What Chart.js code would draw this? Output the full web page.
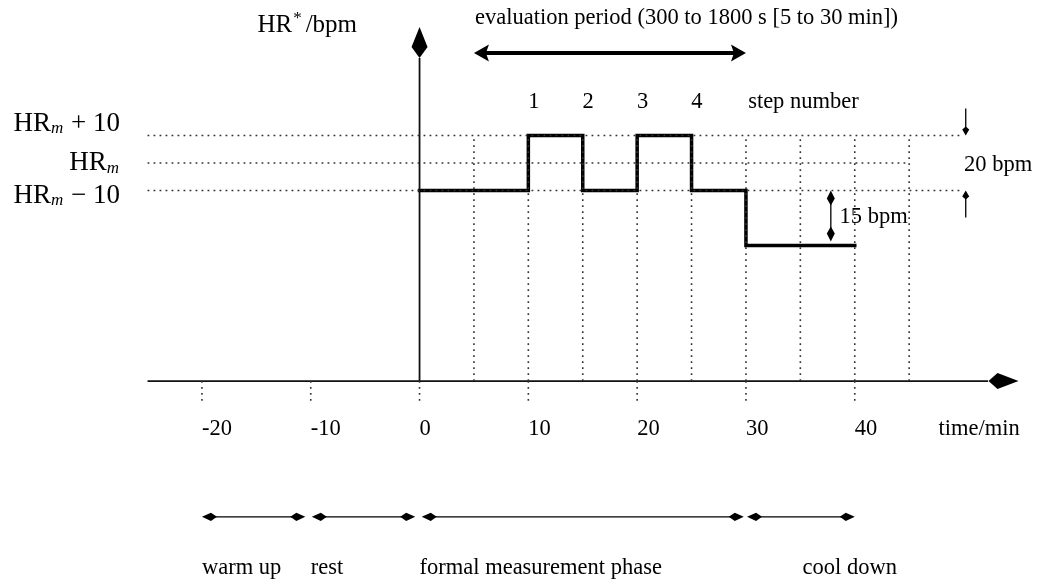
<!DOCTYPE html>
<html>
<head>
<meta charset="utf-8">
<script src="https://cdn.jsdelivr.net/npm/chart.js@4"></script>
<style>
  html, body { margin: 0; padding: 0; background: #fff; }
  #wrap { width: 1037px; height: 579px; position: relative; }
</style>
</head>
<body>
<div id="wrap"><canvas id="c"></canvas></div>
<script>
// ---- data (time in min, heart rate relative to HR_m in bpm) ----
const stepStart = [0, 10, 15, 20, 25, 30];
const stepEnd   = [10, 15, 20, 25, 30, 40];
const stepLevel = [-10, 10, -10, 10, -10, -30];

const refLevels    = [10, 0, -10];
const refLevelEnds = [50, 45, 50];
const refLabelsMain = ['HR', 'HR', 'HR'];
const refLabelsTail = [' + 10', '', ' \u2212 10'];

const gridTimes  = [5, 10, 15, 20, 25, 30, 35, 40, 45];
const tickValues = [-20, -10, 0, 10, 20, 30, 40];
const tickLabels = ['-20', '-10', '0', '10', '20', '30', '40'];

const stepNumbers     = ['1', '2', '3', '4'];
const stepNumberTimes = [10.5, 15.5, 20.5, 25.5];

const phaseNames  = ['warm up', 'rest', 'formal measurement phase', 'cool down'];
const phaseStart  = [-20, -9.9, 0.2, 30.1];
const phaseEnd    = [-10.5, -0.4, 29.8, 40];
const phaseLabelX = [-20, -10, 0, 35.2];

const evalPeriod = [5, 30];
const evalText = 'evaluation period (300 to 1800 s [5 to 30 min])';
const dropBpm = [-10, -30];
const bandBpm = [10, -10];

// ---- layout (value space) ----
const X_MIN = -38.56, X_MAX = 56.75, Y_MIN = -151.3, Y_MAX = 59.3;
const AXIS_Y = -79.3, AXIS_X_START = -25, AXIS_X_BACK = 52.25, AXIS_X_TIP = 55.05;
const YAXIS_BACK = 38.2, YAXIS_TIP = 49.5;
const TICK_BOTTOM = -86.9;
const FONT = '"Liberation Serif", "Times New Roman", serif';
const TXT = '22.5px ' + FONT;

// build step line points
const stepPts = [];
stepStart.forEach((s, i) => {
  stepPts.push({x: s, y: stepLevel[i]});
  stepPts.push({x: stepEnd[i], y: stepLevel[i]});
});

// dotted reference lines
const dotPts = [];
refLevels.forEach((lv, i) => {
  dotPts.push({x: AXIS_X_START, y: lv}, {x: refLevelEnds[i], y: lv}, {x: refLevelEnds[i], y: null});
});
gridTimes.forEach(t => {
  dotPts.push({x: t, y: AXIS_Y}, {x: t, y: refLevels[0]}, {x: t, y: null});
});
tickValues.forEach(t => {
  dotPts.push({x: t, y: AXIS_Y}, {x: t, y: TICK_BOTTOM}, {x: t, y: null});
});

// axes
const axisPts = [
  {x: AXIS_X_START, y: AXIS_Y}, {x: AXIS_X_BACK, y: AXIS_Y}, {x: AXIS_X_BACK, y: null},
  {x: 0, y: AXIS_Y}, {x: 0, y: YAXIS_BACK}
];

function kite(ctx, tx, ty, dx, dy, len, wide, halfW) {
  const px = -dy, py = dx;
  ctx.beginPath();
  ctx.moveTo(tx, ty);
  ctx.lineTo(tx - dx * wide + px * halfW, ty - dy * wide + py * halfW);
  ctx.lineTo(tx - dx * len, ty - dy * len);
  ctx.lineTo(tx - dx * wide - px * halfW, ty - dy * wide - py * halfW);
  ctx.closePath();
  ctx.fill();
}

function line(ctx, x1, y1, x2, y2, w) {
  ctx.beginPath();
  ctx.lineWidth = w;
  ctx.moveTo(x1, y1);
  ctx.lineTo(x2, y2);
  ctx.stroke();
}

const overlay = {
  id: 'overlay',
  afterDatasetsDraw(chart) {
    const ctx = chart.ctx;
    const X = v => chart.scales.x.getPixelForValue(v);
    const Y = v => chart.scales.y.getPixelForValue(v);
    ctx.save();
    ctx.fillStyle = '#000';
    ctx.strokeStyle = '#000';

    // axis arrowheads
    kite(ctx, X(AXIS_X_TIP), Y(AXIS_Y), 1, 0, 30, 21, 8);
    kite(ctx, X(0), Y(YAXIS_TIP), 0, -1, 31, 20, 8);

    // evaluation period arrow
    const ey = Y(40);
    line(ctx, X(evalPeriod[0]) + 10, ey, X(evalPeriod[1]) - 10, ey, 4);
    kite(ctx, X(evalPeriod[0]), ey, -1, 0, 12, 15, 8.5);
    kite(ctx, X(evalPeriod[1]), ey, 1, 0, 12, 15, 8.5);

    // phase arrows
    const py = Y(-128.7);
    phaseStart.forEach((s, i) => {
      line(ctx, X(s) + 5, py, X(phaseEnd[i]) - 5, py, 1.1);
      kite(ctx, X(s), py, -1, 0, 15, 9, 4.2);
      kite(ctx, X(phaseEnd[i]), py, 1, 0, 15, 9, 4.2);
    });

    // 15 bpm double arrow
    const ax = X(37.8);
    line(ctx, ax, Y(dropBpm[0]) + 5, ax, Y(dropBpm[1]) - 8, 1.3);
    kite(ctx, ax, Y(dropBpm[0]), 0, -1, 15, 8, 4);
    kite(ctx, ax, Y(dropBpm[1]) - 4, 0, 1, 15, 8, 4);

    // 20 bpm arrows
    const bx = X(50.2);
    line(ctx, bx, Y(bandBpm[0]) - 27, bx, Y(bandBpm[0]) - 4, 1.3);
    kite(ctx, bx, Y(bandBpm[0]), 0, 1, 9, 6, 3.5);
    line(ctx, bx, Y(bandBpm[1]) + 27, bx, Y(bandBpm[1]) + 4, 1.3);
    kite(ctx, bx, Y(bandBpm[1]), 0, -1, 9, 6, 3.5);

    // texts
    ctx.textBaseline = 'middle';
    ctx.textAlign = 'left';
    ctx.font = TXT;
    tickValues.forEach((t, i) => ctx.fillText(tickLabels[i], X(t), Y(-96.6)));
    ctx.fillText('time/min', X(47.7), Y(-96.6));
    phaseNames.forEach((n, i) => ctx.fillText(n, X(phaseLabelX[i]), Y(-147.3)));
    ctx.fillText(evalText, X(5.1), Y(52.7));
    ctx.fillText('step number', X(30.2), Y(22));
    ctx.fillText('15 bpm', X(38.6), Y(-19.6));
    ctx.fillText('20 bpm', X(50.05), Y(-0.7));
    ctx.textAlign = 'center';
    stepNumbers.forEach((n, i) => ctx.fillText(n, X(stepNumberTimes[i]), Y(22)));

    // y axis title HR*/bpm
    ctx.textAlign = 'left';
    ctx.font = '25px ' + FONT;
    let x0 = X(-14.9), y0 = Y(50.2);
    ctx.fillText('HR', x0, y0);
    x0 += ctx.measureText('HR').width;
    ctx.font = '17px ' + FONT;
    ctx.fillText('*', x0 + 1, y0 - 6);
    x0 += ctx.measureText('*').width + 5;
    ctx.font = '25px ' + FONT;
    ctx.fillText('/bpm', x0, y0);

    // reference level labels (right-aligned)
    const labelYOff = [-12, 0, 5];
    refLevels.forEach((lv, i) => {
      const yy = Y(lv) + labelYOff[i];
      const right = 120;
      ctx.font = '27px ' + FONT;
      const wHR = ctx.measureText(refLabelsMain[i]).width;
      const wTail = ctx.measureText(refLabelsTail[i]).width;
      ctx.font = 'italic 17px ' + FONT;
      const wm = ctx.measureText('m').width;
      let xs = right - wTail - wm - wHR - 1;
      ctx.font = '27px ' + FONT;
      ctx.fillText(refLabelsMain[i], xs, yy);
      xs += wHR;
      ctx.font = 'italic 17px ' + FONT;
      ctx.fillText('m', xs, yy + 5);
      xs += wm + 1;
      ctx.font = '27px ' + FONT;
      ctx.fillText(refLabelsTail[i], xs, yy);
    });
    ctx.restore();
  }
};

new Chart(document.getElementById('c'), {
  type: 'line',
  data: {
    datasets: [
      { data: dotPts, borderColor: '#333', borderWidth: 1.6, borderDash: [1.8, 4.2],
        pointRadius: 0, spanGaps: false, tension: 0 },
      { data: axisPts, borderColor: '#111', borderWidth: 1.8, pointRadius: 0, spanGaps: false, tension: 0 },
      { data: stepPts, borderColor: '#000', borderWidth: 3.5, pointRadius: 0, tension: 0,
        borderJoinStyle: 'miter', borderCapStyle: 'square' }
    ]
  },
  options: {
    responsive: true,
    maintainAspectRatio: false,
    animation: false,
    layout: { padding: 0 },
    plugins: { legend: { display: false }, tooltip: { enabled: false }, title: { display: false } },
    scales: {
      x: { type: 'linear', min: X_MIN, max: X_MAX, display: false },
      y: { type: 'linear', min: Y_MIN, max: Y_MAX, display: false }
    },
    events: []
  },
  plugins: [overlay]
});
</script>
</body>
</html>
